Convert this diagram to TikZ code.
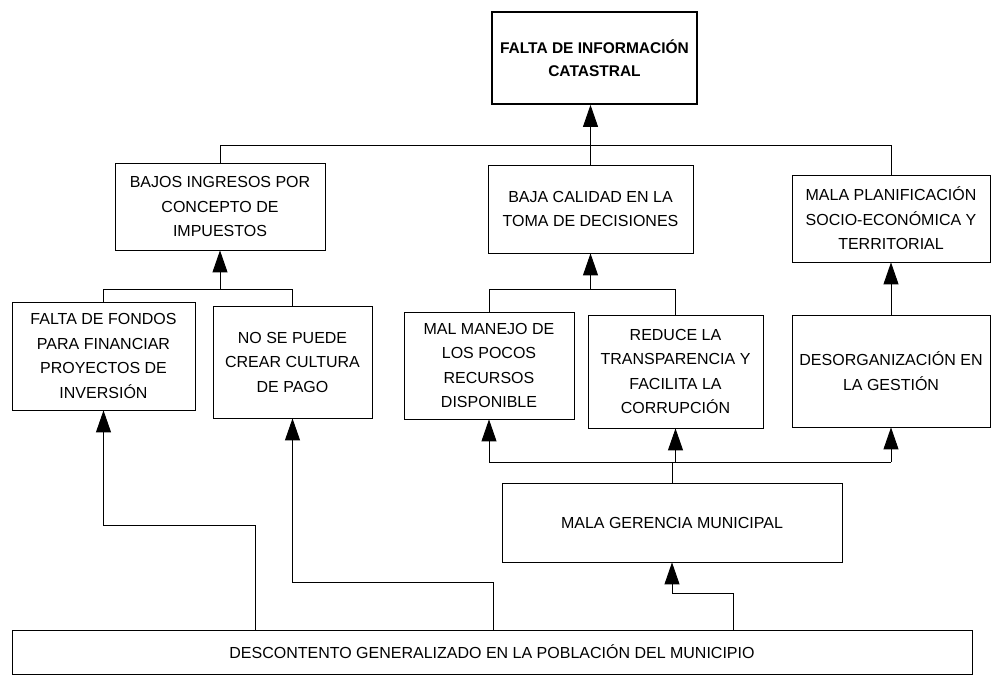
\documentclass[tikz,border=0pt]{standalone}
\usepackage{fontspec}
\setmainfont{Liberation Sans}
\usetikzlibrary{arrows.meta}
\usetikzlibrary{calc}
\tikzset{caja/.style={draw,line width=0.8pt,inner sep=0pt,align=center}}
\tikzset{flecha/.style={-{Triangle[length=22pt,width=15pt]},line width=0.9pt}}
\tikzset{linea/.style={line width=0.9pt}}

\begin{document}
\begin{tikzpicture}[x=1pt,y=-1pt]
        \useasboundingbox (0,0) rectangle (992,688);
        \begin{scope}[font=\fontsize{16}{24.5}\selectfont]
          \node[caja,line width=1.8pt,minimum width=205,minimum height=92,font=\fontsize{15.5}{23}\selectfont\bfseries] (A) at (594.5,58) {FALTA DE INFORMACIÓN\\CATASTRAL};
          \node[caja,minimum width=210,minimum height=87] (B) at (220,206.5) {BAJOS INGRESOS POR\\CONCEPTO DE\\IMPUESTOS};
          \node[caja,minimum width=205,minimum height=88] (C) at (590.5,209) {BAJA CALIDAD EN LA\\TOMA DE DECISIONES};
          \node[caja,minimum width=198,minimum height=87] (D) at (891,218.5) {MALA PLANIFICACIÓN\\SOCIO-ECONÓMICA Y\\TERRITORIAL};
          \node[caja,minimum width=183,minimum height=108] (E) at (103.5,356) {FALTA DE FONDOS\\PARA FINANCIAR\\PROYECTOS DE\\INVERSIÓN};
          \node[caja,minimum width=159,minimum height=112] (F) at (292.5,362) {NO SE PUEDE\\CREAR CULTURA\\DE PAGO};
          \node[caja,minimum width=170,minimum height=107] (G) at (489,365.5) {MAL MANEJO DE\\LOS POCOS\\RECURSOS\\DISPONIBLE};
          \node[caja,minimum width=175,minimum height=113] (H) at (675.5,371.5) {REDUCE LA\\TRANSPARENCIA Y\\FACILITA LA\\CORRUPCIÓN};
          \node[caja,minimum width=198,minimum height=112] (I) at (891,371) {DESORGANIZACIÓN EN\\LA GESTIÓN}
            edge [flecha] (D);
          \node[caja,minimum width=340,minimum height=79] (J) at (672,522.5) {MALA GERENCIA MUNICIPAL};
          \node[caja,minimum width=960,minimum height=44] (K) at (492,652) {DESCONTENTO GENERALIZADO EN LA POBLACIÓN DEL MUNICIPIO};
        \end{scope}
        % niveles de las lineas
        \coordinate (r1) at (0,145);
        \coordinate (r2) at (0,289);
        \coordinate (r4) at (0,462);
        \coordinate (k1) at (255,525);
        \coordinate (k2) at (493,582);
        \coordinate (k3) at (733,593);
        \draw[flecha] (C.north) -- (C.north |- A.south);
        \draw[linea] (B.north) -- (B.north |- r1) -| (D.north);
        \draw[flecha] (B.south |- r2) -- (B.south);
        \draw[linea] (E.north) -- (E.north |- r2) -| (F.north);
        \draw[flecha] (C.south |- r2) -- (C.south);
        \draw[linea] (G.north) -- (G.north |- r2) -| (H.north);
        \draw[linea] (J.north) -- (J.north |- r4);
        \draw[linea] (G.south |- r4) -- (I.south |- r4);
        \draw[flecha] (G.south |- r4) -- (G.south);
        \draw[flecha] (H.south |- r4) -- (H.south);
        \draw[flecha] (I.south |- r4) -- (I.south);
        \draw[flecha] (K.north -| k1) -- (k1) -| (E.south);
        \draw[flecha] (K.north -| k2) -- (k2) -| (F.south);
        \draw[flecha] (K.north -| k3) -- (k3) -| (J.south);
      \end{tikzpicture}
\end{document}
